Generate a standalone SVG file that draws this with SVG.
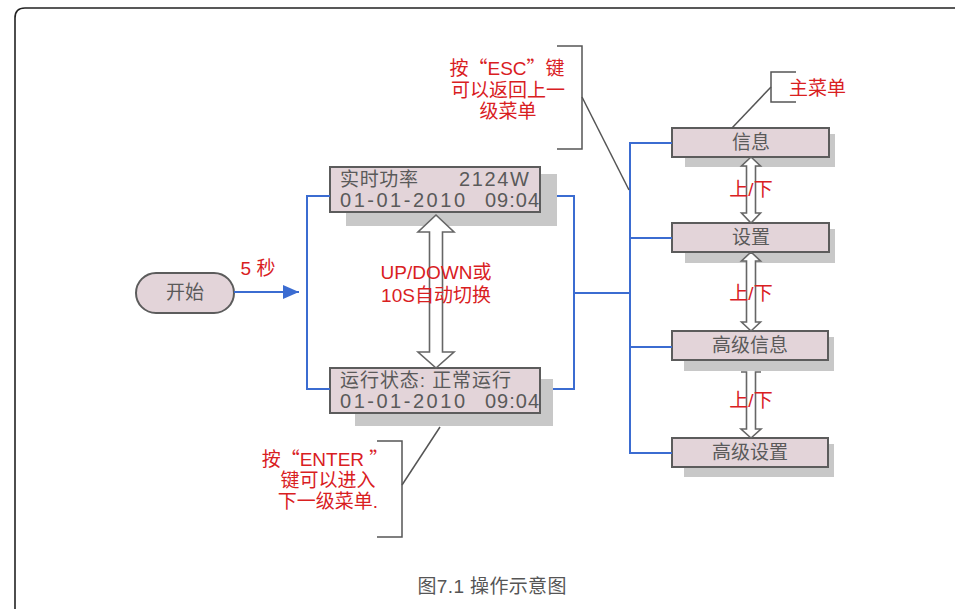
<svg xmlns="http://www.w3.org/2000/svg" width="955" height="609" viewBox="0 0 955 609">
<style>
text{font-family:"Liberation Sans","Noto Sans CJK SC",sans-serif;}
.q{font-family:"Noto Sans CJK SC","Liberation Sans",sans-serif;}
.box{fill:#e3d4d9;stroke:#5c5c5c;stroke-width:2;}
.shadow{fill:#c8c8c8;}
.lcd{font-size:19px;fill:#5a5a5a;}
.dig{font-size:20px;fill:#5a5a5a;}
.menu{font-size:19px;fill:#5a5a5a;text-anchor:middle;}
.red{font-size:19px;fill:#d9201f;}
.redc{font-size:19px;fill:#d9201f;text-anchor:middle;}
.blue{fill:none;stroke:#3b6cd1;stroke-width:2;}
.gray{fill:none;stroke:#555;stroke-width:1.5;}
.harrow{fill:#fff;stroke:#666;stroke-width:1.6;stroke-linejoin:miter;}
</style>
<defs>
<marker id="tri" markerWidth="16" markerHeight="14" refX="16" refY="7" orient="auto" markerUnits="userSpaceOnUse">
<path d="M0,0 L16,7 L0,14 Z" fill="#3b6cd1"/>
</marker>
</defs>
<path d="M15,609 V18 Q15,8 25,8 H955" fill="none" stroke="#222" stroke-width="1.6"/>
<g id="start">
<rect x="136" y="273" width="98" height="40" rx="20" ry="20" class="box" stroke-width="1.6"/>
<text x="185" y="299" class="menu">开始</text>
</g>
<g id="lcd1">
<rect x="346" y="174" width="211" height="52" class="shadow"/>
<rect x="330" y="167" width="210" height="45" class="box"/>
<text x="340" y="186" class="lcd" textLength="78" lengthAdjust="spacing">实时功率</text>
<text x="459" y="186" class="dig" textLength="70" lengthAdjust="spacing">2124W</text>
<text x="340" y="207" class="dig" textLength="125" lengthAdjust="spacing">01-01-2010</text>
<text x="485" y="207" class="dig" textLength="54" lengthAdjust="spacing">09:04</text>
</g>
<g id="lcd2">
<rect x="355" y="379" width="198" height="47" class="shadow"/>
<rect x="330" y="368" width="210" height="45" class="box"/>
<text x="340" y="387" class="lcd" textLength="171" lengthAdjust="spacing">运行状态: 正常运行</text>
<text x="340" y="408" class="dig" textLength="125" lengthAdjust="spacing">01-01-2010</text>
<text x="485" y="408" class="dig" textLength="54" lengthAdjust="spacing">09:04</text>
</g>
<g id="menu-info">
<rect x="685" y="134" width="150" height="33" class="shadow"/>
<rect x="672" y="128" width="157" height="29" class="box"/>
<text x="751" y="149" class="menu">信息</text>
</g>
<g id="menu-settings">
<rect x="685" y="229" width="150" height="34" class="shadow"/>
<rect x="672" y="223" width="157" height="29" class="box"/>
<text x="751" y="244" class="menu">设置</text>
</g>
<g id="menu-advinfo">
<rect x="684" y="337" width="150" height="34" class="shadow"/>
<rect x="672" y="331" width="156" height="29" class="box"/>
<text x="750" y="352" class="menu">高级信息</text>
</g>
<g id="menu-advset">
<rect x="684" y="444" width="150" height="33" class="shadow"/>
<rect x="672" y="438" width="156" height="29" class="box"/>
<text x="750" y="459" class="menu">高级设置</text>
</g>
<g id="note-esc">
<path d="M557,46 H582 V149 H557" class="gray"/>
<text class="redc"><tspan x="507" y="75">按<tspan class="q">“</tspan>ESC<tspan class="q">”</tspan>键</tspan><tspan x="508" y="97">可以返回上一</tspan><tspan x="508" y="118">级菜单</tspan></text>
</g>
<g id="note-main">
<path d="M796,72 H771 V102 H796" class="gray"/>
<text x="789" y="95" class="red">主菜单</text>
</g>
<g id="note-enter">
<path d="M377,441 H402 V537 H377" class="gray"/>
<text class="redc"><tspan x="325" y="466">按<tspan class="q">“</tspan>ENTER <tspan class="q">”</tspan></tspan><tspan x="328" y="487">键可以进入</tspan><tspan x="328" y="508">下一级菜单.</tspan></text>
</g>
<g id="caption">
<text x="492" y="593" font-size="19" fill="#555" text-anchor="middle" textLength="149" lengthAdjust="spacing">图7.1 操作示意图</text>
</g>
<g id="connectors">
<path d="M234,292 H299" class="blue" marker-end="url(#tri)"/>
<path d="M330,196 H307 V389 H330" class="blue"/>
<path d="M557,196 H574 V389 H553" class="blue"/>
<path d="M574,293 H630" class="blue"/>
<path d="M672,143 H630 V453 H672 M630,238 H672 M630,347 H672" class="blue"/>
<path d="M582,97 L629,190" class="gray"/>
<path d="M771,87 L732,128" class="gray"/>
<path d="M402,485 L440,427" class="gray"/>
<path d="M436,215 L454,232 H442.5 V352 H454 L436,368 L418,352 H429.5 V232 H418 Z" class="harrow"/>
<path d="M751,157 L760.5,166 H755.5 V213 H760.5 L751,223 L741.5,213 H746.5 V166 H741.5 Z" class="harrow"/>
<path d="M751,252 L760.5,261 H755.5 V322 H760.5 L751,331 L741.5,322 H746.5 V261 H741.5 Z" class="harrow"/>
<path d="M741,372 H746.5 V429 H741 L751,438 L761,429 H755.5 V372 H761" class="harrow"/>
<text x="436" y="279" class="redc" font-size="20">UP/DOWN或</text>
<text x="436" y="302" class="redc" font-size="20">10S自动切换</text>
<text x="258" y="275" class="redc">5 秒</text>
<text x="751" y="196" class="redc">上/下</text>
<text x="751" y="300" class="redc">上/下</text>
<text x="751" y="407" class="redc">上/下</text>
</g>
</svg>
